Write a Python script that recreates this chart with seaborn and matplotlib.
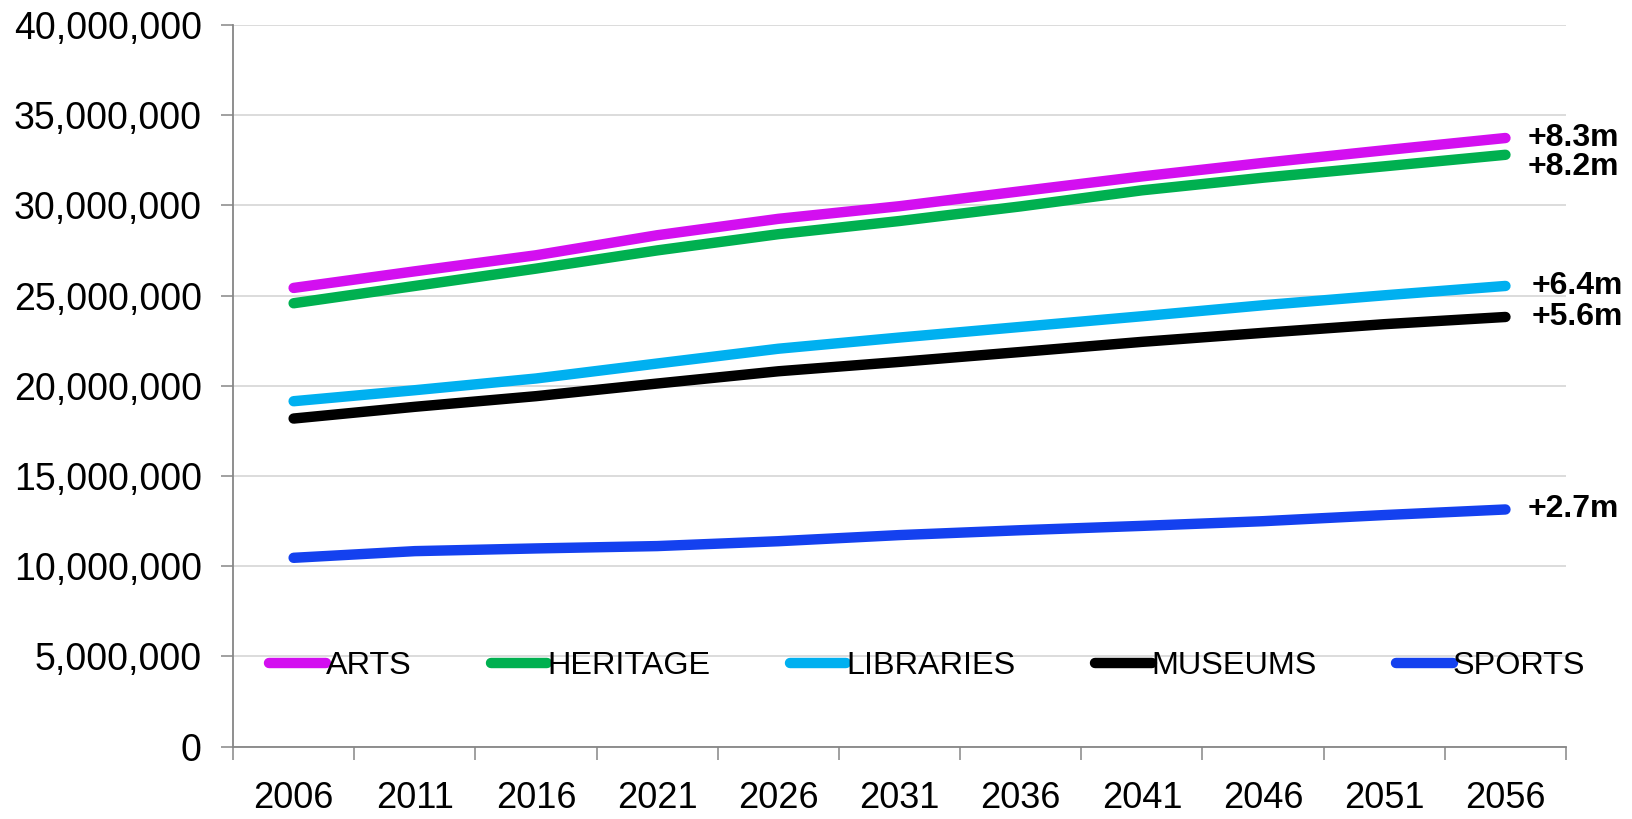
import numpy as np
import pandas as pd
import matplotlib
matplotlib.use("Agg")
import matplotlib.pyplot as plt
from matplotlib.ticker import FixedLocator, FuncFormatter
from matplotlib.lines import Line2D
import seaborn as sns

# ── Data ──────────────────────────────────────────────────────────────────
YEARS     = [2006, 2011, 2016, 2021, 2026, 2031, 2036, 2041, 2046, 2051, 2056]
ARTS      = [25.42, 26.34, 27.23, 28.34, 29.25, 29.95, 30.78, 31.60, 32.35, 33.05, 33.73]
HERITAGE  = [24.57, 25.53, 26.49, 27.50, 28.40, 29.13, 29.94, 30.83, 31.53, 32.16, 32.80]
LIBRARIES = [19.14, 19.75, 20.40, 21.23, 22.05, 22.67, 23.26, 23.85, 24.46, 25.01, 25.53]
MUSEUMS   = [18.18, 18.83, 19.42, 20.12, 20.80, 21.32, 21.87, 22.43, 22.93, 23.41, 23.81]
SPORTS    = [10.46, 10.83, 10.98, 11.11, 11.38, 11.72, 11.99, 12.23, 12.49, 12.83, 13.14]
SERIES    = ["ARTS", "HERITAGE", "LIBRARIES", "MUSEUMS", "SPORTS"]
GROWTH    = ["+8.3m", "+8.2m", "+6.4m", "+5.6m", "+2.7m"]
COLORS    = ["#D30FF0", "#00B050", "#00B0F0", "#000000", "#1441EF"]

df = pd.DataFrame({
    "year": YEARS * 5,
    "value": np.array(ARTS + HERITAGE + LIBRARIES + MUSEUMS + SPORTS) * 1e6,
    "series": np.repeat(SERIES, len(YEARS)),
})

# ── Style ─────────────────────────────────────────────────────────────────
sns.set_style("white")
plt.rcParams["font.family"] = ["Liberation Sans", "DejaVu Sans"]
plt.rcParams["text.color"] = "black"
plt.rcParams["xtick.labelcolor"] = "black"
plt.rcParams["ytick.labelcolor"] = "black"

fig = plt.figure(figsize=(16.33, 8.19), dpi=100)
ax = fig.add_axes([0.1427, 0.0885, 0.8163, 0.8811])

palette = dict(zip(SERIES, COLORS))
sns.lineplot(data=df, x="year", y="value", hue="series", palette=palette,
             linewidth=7.5, ax=ax, legend=False, solid_capstyle="round")

ax.set_xlim(2003.5, 2058.5)
ax.set_ylim(0, 40e6)
ax.set_yticks(np.arange(0, 40e6 + 1, 5e6))
ax.yaxis.set_major_formatter(FuncFormatter(lambda v, p: f"{int(v):,}"))
ax.grid(axis="y", color="#D9D9D9", linewidth=1.3)
ax.set_axisbelow(True)

# category axis: tick marks between years, labels at years
ax.xaxis.set_major_locator(FixedLocator([2003.5 + 5 * i for i in range(12)]))
ax.xaxis.set_major_formatter(FuncFormatter(lambda v, p: ""))
ax.xaxis.set_minor_locator(FixedLocator(YEARS))
ax.xaxis.set_minor_formatter(FuncFormatter(lambda v, p: f"{int(round(v))}"))
ax.tick_params(axis="x", which="major", direction="out", length=9,
               width=1.1, color="#868686", bottom=True)
ax.tick_params(axis="x", which="minor", length=0, pad=25, labelsize=26)
ax.tick_params(axis="y", direction="out", length=8.5, width=1.1,
               color="#868686", left=True, pad=14, labelsize=27)
ax.set_xlabel("")
ax.set_ylabel("")

for s in ["top", "right"]:
    ax.spines[s].set_visible(False)
for s in ["left", "bottom"]:
    ax.spines[s].set_color("#868686")
    ax.spines[s].set_linewidth(1.3)

# ── End labels ────────────────────────────────────────────────────────────
offsets = [(16, 0), (16, -9), (19, 0), (19, 0), (16, 0)]
ends = [ARTS[-1], HERITAGE[-1], LIBRARIES[-1], MUSEUMS[-1], SPORTS[-1]]
for lbl, val, off in zip(GROWTH, ends, offsets):
    ax.annotate(lbl, xy=(YEARS[-1], val * 1e6), xytext=off,
                textcoords="offset points", ha="left", va="center",
                fontsize=23, fontweight="bold", color="black",
                annotation_clip=False)

# ── Legend ────────────────────────────────────────────────────────────────
handles = [Line2D([0], [0], color=c, linewidth=7.5, solid_capstyle="round")
           for c in COLORS]
ax.legend(handles, SERIES, ncol=5, loc="center left",
          bbox_to_anchor=(0.027, 0.111), frameon=False, fontsize=23.3,
          handlelength=1.75, handletextpad=0.0, columnspacing=2.45,
          borderpad=0, borderaxespad=0, labelcolor="black")

plt.savefig("out.png", dpi=100)
plt.close()
